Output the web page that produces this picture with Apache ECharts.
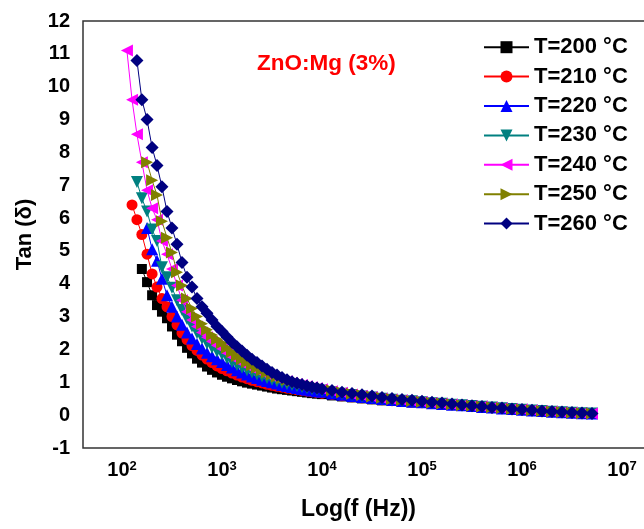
<!DOCTYPE html>
<html>
<head>
<meta charset="utf-8">
<script src="https://cdn.jsdelivr.net/npm/echarts@6/dist/echarts.min.js"></script>
<style>
html,body{margin:0;padding:0;background:#fff;}
#chart{width:644px;height:529px;}
</style>
</head>
<body>
<div id="chart"></div>
<script>
// Frequency (Hz)
const freqHz = [112, 126, 141, 158, 178, 200, 224, 251, 282, 316, 355, 398, 447, 501, 562, 631, 708, 794, 891, 1000,
  1122, 1259, 1413, 1585, 1778, 1995, 2239, 2512, 2818, 3162, 3548, 3981, 4467, 5012, 5623, 6310, 7079, 7943, 8913, 10000,
  12589, 15849, 19953, 25119, 31623, 39811, 50119, 63096, 79433, 100000,
  125893, 158489, 199526, 251189, 316228, 398107, 501187, 630957, 794328, 1000000,
  1258925, 1584893, 1995262, 2511886, 3162278, 3981072, 5011872];

const seriesNames = ['T=200 °C', 'T=210 °C', 'T=220 °C', 'T=230 °C', 'T=240 °C', 'T=250 °C', 'T=260 °C'];

const t200 = [null, null, null, 4.45, 4.05, 3.65, 3.35, 3.15, 2.95, 2.7, 2.45, 2.25, 2.05, 1.88, 1.72, 1.6, 1.48, 1.38, 1.3, 1.23,
  1.17, 1.12, 1.07, 1.03, 0.99, 0.96, 0.93, 0.9, 0.87, 0.84, 0.81, 0.79, 0.77, 0.75, 0.73, 0.71, 0.69, 0.67, 0.655, 0.64,
  0.6, 0.57, 0.54, 0.51, 0.48, 0.45, 0.43, 0.41, 0.39, 0.37,
  0.35, 0.33, 0.31, 0.29, 0.27, 0.24, 0.22, 0.2, 0.18, 0.16,
  0.14, 0.12, 0.1, 0.09, 0.07, 0.06, 0.05];
const t210 = [null, 6.4, 5.95, 5.5, 4.9, 4.3, 3.9, 3.55, 3.3, 3.0, 2.75, 2.5, 2.3, 2.12, 1.97, 1.83, 1.71, 1.6, 1.5, 1.42,
  1.35, 1.28, 1.22, 1.16, 1.11, 1.06, 1.02, 0.98, 0.94, 0.91, 0.88, 0.85, 0.82, 0.8, 0.77, 0.75, 0.73, 0.71, 0.69, 0.67,
  0.63, 0.59, 0.56, 0.53, 0.5, 0.47, 0.44, 0.42, 0.4, 0.38,
  0.355, 0.335, 0.315, 0.295, 0.27, 0.245, 0.225, 0.2, 0.18, 0.16,
  0.14, 0.12, 0.1, 0.09, 0.07, 0.06, 0.05];
const t220 = [null, null, null, null, 5.7, 5.05, 4.7, 4.15, 3.65, 3.3, 3.0, 2.75, 2.52, 2.33, 2.17, 2.03, 1.9, 1.79, 1.7, 1.62,
  1.53, 1.45, 1.37, 1.3, 1.24, 1.18, 1.13, 1.08, 1.04, 1.0, 0.96, 0.92, 0.89, 0.86, 0.83, 0.8, 0.77, 0.75, 0.73, 0.71,
  0.66, 0.62, 0.58, 0.55, 0.52, 0.49, 0.46, 0.43, 0.41, 0.39,
  0.36, 0.34, 0.32, 0.3, 0.275, 0.25, 0.23, 0.205, 0.185, 0.165,
  0.145, 0.125, 0.105, 0.09, 0.075, 0.06, 0.05];
const t230 = [null, null, 7.1, 6.6, 6.2, 5.65, 5.3, 4.5, 4.2, 3.88, 3.5, 3.2, 2.93, 2.7, 2.5, 2.33, 2.18, 2.05, 1.94, 1.85,
  1.73, 1.62, 1.53, 1.44, 1.37, 1.3, 1.24, 1.18, 1.13, 1.08, 1.03, 0.99, 0.95, 0.92, 0.89, 0.86, 0.83, 0.8, 0.77, 0.75,
  0.7, 0.65, 0.61, 0.57, 0.54, 0.5, 0.47, 0.44, 0.42, 0.39,
  0.365, 0.345, 0.32, 0.3, 0.28, 0.255, 0.23, 0.21, 0.19, 0.165,
  0.145, 0.125, 0.105, 0.09, 0.075, 0.06, 0.05];
const t240 = [11.1, 9.6, 8.55, 7.7, 6.85, 6.3, 5.95, 5.3, 4.9, 4.45, 3.95, 3.5, 3.15, 2.9, 2.7, 2.52, 2.37, 2.24, 2.12, 2.02,
  1.89, 1.78, 1.68, 1.58, 1.5, 1.42, 1.35, 1.29, 1.23, 1.17, 1.12, 1.07, 1.03, 0.99, 0.95, 0.92, 0.88, 0.85, 0.82, 0.79,
  0.73, 0.68, 0.63, 0.59, 0.55, 0.51, 0.48, 0.45, 0.42, 0.4,
  0.37, 0.35, 0.325, 0.3, 0.28, 0.26, 0.235, 0.21, 0.19, 0.17,
  0.15, 0.13, 0.11, 0.09, 0.075, 0.06, 0.05];
const t250 = [null, null, null, null, 7.7, 7.15, 6.7, 5.9, 5.4, 4.95, 4.35, 3.95, 3.55, 3.25, 3.0, 2.78, 2.6, 2.44, 2.31, 2.2,
  2.05, 1.92, 1.8, 1.7, 1.61, 1.52, 1.44, 1.37, 1.3, 1.24, 1.18, 1.13, 1.08, 1.04, 1.0, 0.96, 0.92, 0.89, 0.85, 0.82,
  0.76, 0.7, 0.65, 0.61, 0.57, 0.53, 0.49, 0.46, 0.43, 0.41,
  0.38, 0.355, 0.33, 0.305, 0.285, 0.26, 0.24, 0.215, 0.19, 0.17,
  0.15, 0.13, 0.11, 0.095, 0.075, 0.06, 0.05];
const t260 = [null, null, 10.8, 9.6, 9.0, 8.15, 7.6, 6.95, 6.2, 5.7, 5.2, 4.65, 4.2, 3.9, 3.55, 3.3, 3.1, 2.9, 2.7, 2.55,
  2.38, 2.22, 2.08, 1.95, 1.82, 1.7, 1.6, 1.5, 1.4, 1.3, 1.22, 1.15, 1.08, 1.02, 0.97, 0.93, 0.89, 0.86, 0.83, 0.8,
  0.75, 0.7, 0.66, 0.62, 0.58, 0.54, 0.51, 0.48, 0.45, 0.42,
  0.39, 0.37, 0.34, 0.31, 0.29, 0.26, 0.235, 0.215, 0.19, 0.17,
  0.15, 0.13, 0.11, 0.095, 0.08, 0.065, 0.05];

const xTickExponents = [2, 3, 4, 5, 6, 7];
const yTicks = { min: -1, max: 12, step: 1 };

const allValues = [t200, t210, t220, t230, t240, t250, t260];
const colors = ['#000000', '#FF0000', '#0000FF', '#008080', '#FF00FF', '#808000', '#000080'];
const symbols = ['rect', 'circle', 'triangle', 'triangle', 'triangle', 'triangle', 'diamond'];
const rotations = [0, 0, 0, 180, 90, -90, 0];
const sizes = [10, 11, 12, 12, 12, 12, 13];

const FONT = "'Liberation Sans', Arial, sans-serif";

const series = allValues.map((vals, i) => ({
  name: seriesNames[i],
  type: 'line',
  data: freqHz.map((f, k) => vals[k] == null ? null : [Math.log10(f), vals[k]]).filter(d => d),
  symbol: symbols[i],
  symbolRotate: rotations[i],
  symbolSize: sizes[i],
  showSymbol: true,
  lineStyle: { color: colors[i], width: 1 },
  itemStyle: { color: colors[i] },
  animation: false,
  z: 2 + i
}));

const chart = echarts.init(document.getElementById('chart'), null, { renderer: 'canvas' });
chart.setOption({
  backgroundColor: '#ffffff',
  animation: false,
  title: {
    text: 'ZnO:Mg (3%)',
    left: 252, top: 47,
    textStyle: { color: '#FF0000', fontFamily: FONT, fontWeight: 'bold', fontSize: 22.5 }
  },
  legend: {
    orient: 'vertical',
    left: 478, top: 31,
    itemWidth: 45, itemHeight: 15,
    itemGap: 7,
    data: seriesNames,
    textStyle: { color: '#000', fontFamily: FONT, fontWeight: 'bold', fontSize: 22, lineHeight: 22.4 }
  },
  grid: {
    left: 83, top: 21, width: 600, bottom: 81,
    outerBoundsMode: 'none',
    show: true, borderColor: '#333', borderWidth: 1.5,
    containLabel: false
  },
  xAxis: {
    type: 'value',
    min: 1.61, max: 7.61,
    axisLine: { show: false },
    axisTick: { show: false },
    splitLine: { show: false },
    axisLabel: {
      customValues: xTickExponents,
      margin: 12,
      formatter: v => '{b|10}{s|' + Math.round(v) + '}',
      rich: {
        b: { fontFamily: FONT, fontWeight: 'bold', fontSize: 20, color: '#000' },
        s: { fontFamily: FONT, fontWeight: 'bold', fontSize: 13, color: '#000', verticalAlign: 'top', padding: [0, 0, 8, 0] }
      }
    }
  },
  yAxis: {
    type: 'value',
    min: yTicks.min, max: yTicks.max, interval: yTicks.step,
    name: 'Tan (δ)',
    nameLocation: 'middle',
    nameRotate: 90,
    nameGap: 47,
    nameTextStyle: { fontFamily: FONT, fontWeight: 'bold', fontSize: 22, color: '#000' },
    axisLine: { show: false },
    axisTick: { show: false },
    splitLine: { show: false },
    axisLabel: { margin: 13, fontFamily: FONT, fontWeight: 'bold', fontSize: 20, color: '#000' }
  },
  graphic: [{
    type: 'text',
    left: 301, top: 498,
    style: { text: 'Log(f (Hz))', fontFamily: FONT, fontWeight: 'bold', fontSize: 23, fill: '#000' }
  }],
  series: series
});
</script>
</body>
</html>
